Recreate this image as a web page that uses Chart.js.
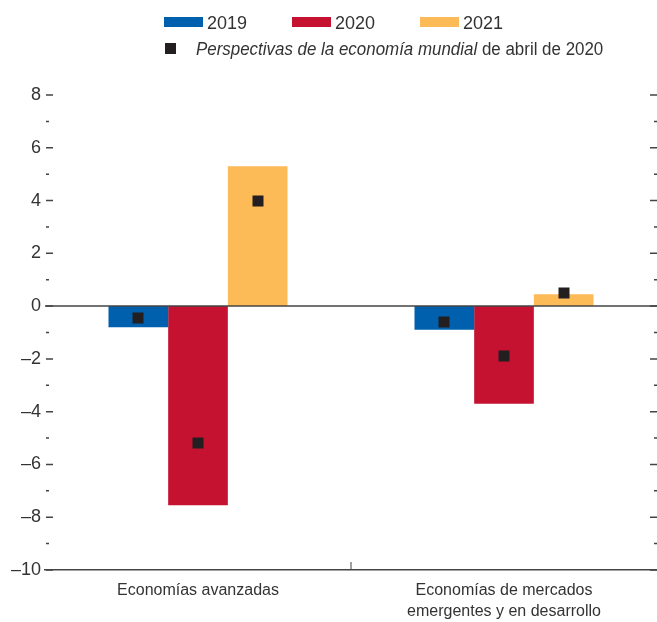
<!DOCTYPE html>
<html><head><meta charset="utf-8">
<script src="https://cdn.jsdelivr.net/npm/chart.js@4/dist/chart.umd.min.js"></script>
<style>
html,body{margin:0;padding:0;background:#fff;}
#wrap{position:relative;width:657px;height:622px;overflow:hidden;}
canvas{position:absolute;left:0;top:0;}
.lg{position:absolute;font-family:'Liberation Sans',sans-serif;font-size:18px;color:#333;white-space:nowrap;line-height:18px;transform-origin:0 0;}
.sw{position:absolute;}
</style></head>
<body><div id="wrap"><canvas id="c" width="657" height="622"></canvas>
<div class="sw" style="left:164px;top:17px;width:39px;height:10px;background:#0060AE"></div>
<div class="lg" style="left:207px;top:14px">2019</div>
<div class="sw" style="left:292px;top:17px;width:39px;height:10px;background:#C41230"></div>
<div class="lg" style="left:335px;top:14px">2020</div>
<div class="sw" style="left:420px;top:17px;width:39px;height:10px;background:#FDBB58"></div>
<div class="lg" style="left:463px;top:14px">2021</div>
<div class="sw" style="left:165px;top:43px;width:11px;height:11px;background:#231F20"></div>
<div class="lg" style="left:196px;top:40px;transform:scaleX(0.94)"><i>Perspectivas de la economía mundial</i> de abril de 2020</div>
</div>
<script>
const categories = [['Economías avanzadas'], ['Economías de mercados', 'emergentes y en desarrollo']];
const seriesNames = ['2019', '2020', '2021'];
const bars2019 = [-0.8, -0.9];
const bars2020 = [-7.55, -3.7];
const bars2021 = [5.3, 0.45];
const weo2019 = [-0.45, -0.6];
const weo2020 = [-5.2, -1.9];
const weo2021 = [4.0, 0.5];
const yMin = -10, yMax = 8, yStep = 2;

const colors = ['#0060AE', '#C41230', '#FDBB58'];
const barSeries = [bars2019, bars2020, bars2021];
const weoSeries = [weo2019, weo2020, weo2021];
const FONT = "'Liberation Sans',sans-serif";
const AX = '#444';

const fmt = v => v < 0 ? '\u2013' + Math.abs(v) : String(v);

const decor = {
  id: 'decor',
  afterDatasetsDraw(chart) {
    const ctx = chart.ctx, ys = chart.scales.y, xs = chart.scales.x, a = chart.chartArea;
    ctx.save();
    ctx.strokeStyle = AX;
    ctx.lineWidth = 1.5;
    const y0 = ys.getPixelForValue(0);
    ctx.beginPath(); ctx.moveTo(a.left, y0); ctx.lineTo(a.right, y0); ctx.stroke();
    for (let v = yMin; v <= yMax; v++) {
      const y = ys.getPixelForValue(v);
      const major = (v % yStep === 0);
      ctx.beginPath();
      if (major) { ctx.moveTo(a.left + 1, y); ctx.lineTo(a.left + 8, y); ctx.moveTo(a.right - 7, y); ctx.lineTo(a.right, y); }
      else { ctx.moveTo(a.left + 1, y); ctx.lineTo(a.left + 4, y); ctx.moveTo(a.right - 3, y); ctx.lineTo(a.right, y); }
      ctx.stroke();
    }
    const xm = (xs.getPixelForValue(0) + xs.getPixelForValue(1)) / 2;
    ctx.lineWidth = 1;
    ctx.beginPath(); ctx.moveTo(xm, a.bottom); ctx.lineTo(xm, a.bottom - 8); ctx.stroke();
    ctx.fillStyle = '#231F20';
    weoSeries.forEach((arr, i) => {
      const meta = chart.getDatasetMeta(i);
      arr.forEach((v, j) => {
        const el = meta.data[j];
        const y = ys.getPixelForValue(v);
        ctx.fillRect(Math.round(el.x) - 5.5, Math.round(y) - 5.5, 11, 11);
      });
    });
    ctx.restore();
  }
};

new Chart(document.getElementById('c'), {
  type: 'bar',
  data: {
    labels: categories,
    datasets: seriesNames.map((n, i) => ({
      label: n, data: barSeries[i], backgroundColor: colors[i],
      barPercentage: 1, categoryPercentage: 0.585, borderWidth: 0
    }))
  },
  options: {
    responsive: false, animation: false,
    layout: { padding: { top: 95, right: 0, left: 0, bottom: 0 } },
    plugins: { legend: { display: false }, tooltip: { enabled: false } },
    scales: {
      x: {
        offset: true,
        afterFit: s => { s.height = 52; },
        grid: { display: false, drawTicks: false },
        border: { display: true, color: AX, width: 1.5 },
        ticks: { color: '#333', font: { family: FONT, size: 16, lineHeight: 1.3 }, padding: 10, maxRotation: 0 }
      },
      y: {
        min: yMin, max: yMax,
        afterFit: s => { s.width = 45; },
        grid: { display: false, drawTicks: false },
        border: { display: false },
        ticks: { stepSize: yStep, color: '#333', font: { family: FONT, size: 18 }, padding: 4, callback: v => fmt(v) }
      }
    }
  },
  plugins: [decor]
});
</script>
</body></html>
